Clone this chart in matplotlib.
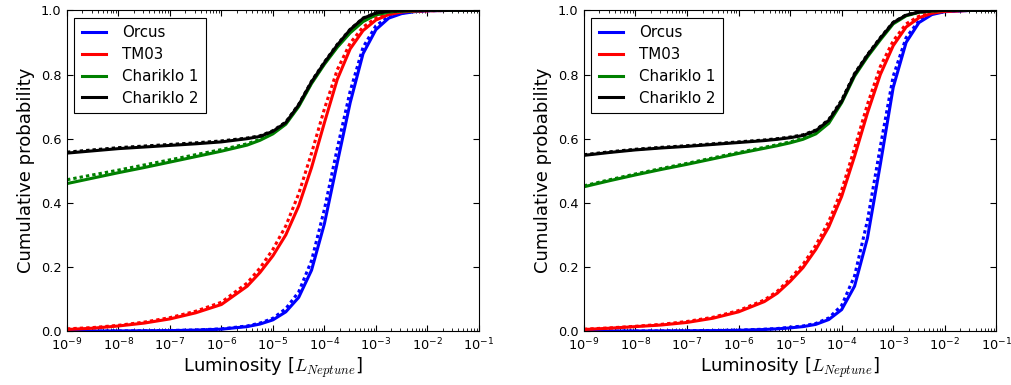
import matplotlib
matplotlib.use('Agg')
import matplotlib.pyplot as plt
import numpy as np

# log10 of luminosity where the curves were read
log_lum = [-9, -8.5, -8, -7.5, -7, -6.5, -6, -5.5, -5.25, -5, -4.75, -4.5,
           -4.25, -4, -3.75, -3.5, -3.25, -3, -2.75, -2.5, -2.25, -2, -1.5, -1]

names = ['Orcus', 'TM03', 'Chariklo 1', 'Chariklo 2']
colors = ['b', 'r', 'g', 'k']

# left panel: solid / dotted
left_solid = [
    [0, 0, 0.0005, 0.001, 0.0015, 0.003, 0.006, 0.014, 0.022, 0.035, 0.06, 0.105,
     0.19, 0.335, 0.525, 0.712, 0.865, 0.94, 0.976, 0.99, 0.996, 0.999, 1, 1],
    [0.005, 0.009, 0.016, 0.025, 0.038, 0.057, 0.083, 0.14, 0.183, 0.235, 0.30, 0.39,
     0.51, 0.65, 0.785, 0.88, 0.937, 0.97, 0.987, 0.995, 0.998, 0.999, 1, 1],
    [0.46, 0.477, 0.494, 0.51, 0.527, 0.544, 0.561, 0.58, 0.595, 0.615, 0.645, 0.70,
     0.772, 0.832, 0.885, 0.93, 0.965, 0.986, 0.995, 0.998, 0.999, 1, 1, 1],
    [0.555, 0.562, 0.569, 0.574, 0.579, 0.584, 0.59, 0.6, 0.607, 0.623, 0.65, 0.705,
     0.777, 0.837, 0.892, 0.94, 0.975, 0.992, 0.998, 0.999, 1, 1, 1, 1],
]
left_dotted = [
    [0, 0, 0.0005, 0.001, 0.002, 0.0035, 0.007, 0.016, 0.025, 0.04, 0.07, 0.122,
     0.22, 0.38, 0.57, 0.748, 0.885, 0.952, 0.981, 0.992, 0.997, 0.999, 1, 1],
    [0.007, 0.011, 0.018, 0.028, 0.042, 0.062, 0.09, 0.15, 0.197, 0.255, 0.328, 0.428,
     0.555, 0.693, 0.815, 0.898, 0.948, 0.976, 0.99, 0.996, 0.998, 0.999, 1, 1],
    [0.472, 0.487, 0.502, 0.518, 0.534, 0.55, 0.566, 0.584, 0.598, 0.618, 0.648, 0.703,
     0.775, 0.835, 0.888, 0.933, 0.967, 0.987, 0.995, 0.998, 0.999, 1, 1, 1],
    [0.558, 0.565, 0.572, 0.577, 0.582, 0.587, 0.593, 0.602, 0.609, 0.625, 0.652, 0.707,
     0.779, 0.839, 0.894, 0.941, 0.976, 0.992, 0.998, 0.999, 1, 1, 1, 1],
]

# right panel: solid / dotted
right_solid = [
    [0, 0, 0.0003, 0.0005, 0.001, 0.0015, 0.0025, 0.005, 0.007, 0.01, 0.014, 0.021,
     0.036, 0.067, 0.14, 0.29, 0.52, 0.76, 0.9, 0.962, 0.987, 0.996, 1, 1],
    [0.005, 0.009, 0.014, 0.019, 0.027, 0.04, 0.06, 0.092, 0.118, 0.155, 0.198, 0.255,
     0.325, 0.42, 0.545, 0.68, 0.80, 0.89, 0.948, 0.977, 0.991, 0.997, 1, 1],
    [0.45, 0.469, 0.487, 0.504, 0.52, 0.537, 0.554, 0.57, 0.578, 0.587, 0.598, 0.615,
     0.648, 0.712, 0.795, 0.855, 0.908, 0.958, 0.983, 0.994, 0.998, 1, 1, 1],
    [0.548, 0.557, 0.565, 0.571, 0.576, 0.582, 0.588, 0.594, 0.598, 0.603, 0.61, 0.625,
     0.657, 0.716, 0.80, 0.86, 0.913, 0.962, 0.985, 0.995, 0.999, 1, 1, 1],
]
right_dotted = [
    [0, 0, 0.0003, 0.0006, 0.0012, 0.002, 0.003, 0.006, 0.008, 0.012, 0.016, 0.024,
     0.041, 0.08, 0.172, 0.345, 0.575, 0.795, 0.915, 0.968, 0.99, 0.997, 1, 1],
    [0.006, 0.01, 0.015, 0.021, 0.03, 0.043, 0.064, 0.097, 0.124, 0.163, 0.208, 0.268,
     0.342, 0.44, 0.57, 0.707, 0.825, 0.905, 0.958, 0.982, 0.994, 0.998, 1, 1],
    [0.453, 0.472, 0.49, 0.507, 0.523, 0.54, 0.557, 0.573, 0.581, 0.59, 0.601, 0.618,
     0.653, 0.718, 0.80, 0.86, 0.912, 0.961, 0.985, 0.995, 0.999, 1, 1, 1],
    [0.55, 0.559, 0.567, 0.573, 0.578, 0.584, 0.59, 0.596, 0.6, 0.605, 0.612, 0.627,
     0.66, 0.72, 0.803, 0.862, 0.915, 0.963, 0.986, 0.995, 0.999, 1, 1, 1],
]

plt.rcParams['font.family'] = 'DejaVu Sans'
plt.rcParams['mathtext.fontset'] = 'cm'
plt.rcParams['axes.unicode_minus'] = False
plt.rcParams['xtick.direction'] = 'in'
plt.rcParams['ytick.direction'] = 'in'
plt.rcParams['xtick.top'] = True
plt.rcParams['ytick.right'] = True

lum = 10.0 ** np.array(log_lum)

fig = plt.figure(figsize=(10.12, 3.85), dpi=100)
ax1 = fig.add_axes([0.0662, 0.140, 0.407, 0.833])
ax2 = fig.add_axes([0.577, 0.140, 0.4075, 0.833])

for ax, solid, dotted in [(ax1, left_solid, left_dotted), (ax2, right_solid, right_dotted)]:
    for name, c, s, d in zip(names, colors, solid, dotted):
        ax.plot(lum, s, color=c, lw=2.2, label=name)
        ax.plot(lum, d, color=c, lw=2.2, linestyle=(0, (1.1, 1.0)))
    ax.set_xscale('log')
    ax.set_xlim(1e-9, 1e-1)
    ax.set_ylim(0, 1)
    ax.set_yticks([0, 0.2, 0.4, 0.6, 0.8, 1.0])
    ax.set_yticklabels(['0.0', '0.2', '0.4', '0.6', '0.8', '1.0'])
    ax.set_xticks(10.0 ** np.arange(-9, 0))
    ax.tick_params(which='major', length=4, labelsize=9.3, pad=4)
    ax.tick_params(which='minor', length=2)
    ax.set_xlabel(r'Luminosity [$L_{Neptune}$]', fontsize=13, labelpad=2)
    ax.set_ylabel('Cumulative probability', fontsize=13)
    leg = ax.legend(loc='upper left', fontsize=10.8, handlelength=1.6,
                    handletextpad=1.1, labelspacing=0.45, borderpad=0.5,
                    fancybox=False, framealpha=1)
    leg.get_frame().set_edgecolor('k')
    leg.get_frame().set_linewidth(0.8)

fig.savefig('out.png', dpi=100)
